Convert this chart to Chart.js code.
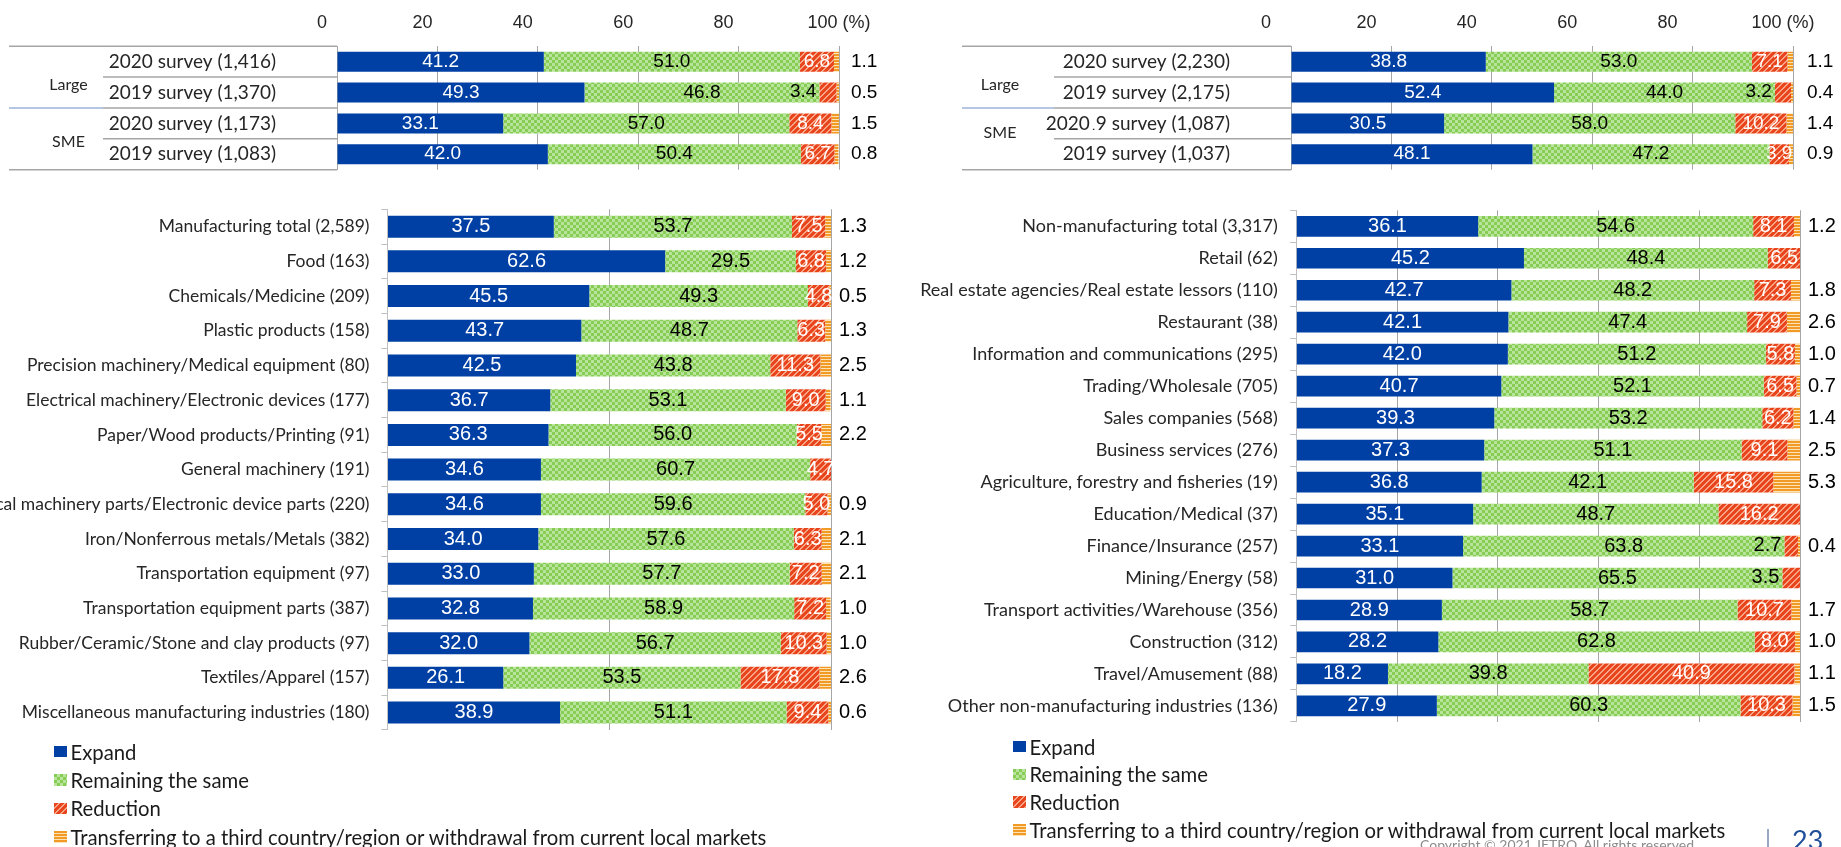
<!DOCTYPE html>
<html lang="en">
<head>
<meta charset="UTF-8">
<meta name="viewport" content="width=device-width, initial-scale=1.0">
<title>Business outlook by industry</title>
<script src="https://cdn.jsdelivr.net/npm/chart.js"></script>
<style>
  html, body { margin: 0; padding: 0; background: #fff; }
  body { position: relative; width: 1841px; height: 847px; overflow: hidden; font-family: Lato, sans-serif; color: #1a1a1a; }
  canvas { position: absolute; left: 0; top: 0; }
  .legend { position: absolute; font-size: 20.3px; line-height: 1; }
  .legend .item { display: flex; align-items: center; white-space: nowrap; }
  .legend .sw { display: inline-block; width: 12.5px; height: 11.6px; margin-right: 4px; background-repeat: repeat; }
  #pageNo { position: absolute; left: 1792px; top: 826px; font-size: 27px; line-height: 1; color: #1f4e9a; }
  #pageRule { position: absolute; left: 1767px; top: 829px; width: 1.5px; height: 18px; background: #9aa6c4; }
  #copyright { position: absolute; left: 1420px; top: 838px; font-size: 14px; line-height: 1; color: #8c8c8c; white-space: nowrap; }
</style>
</head>
<body>
<canvas id="mfgSize" width="1841" height="847"></canvas>
<canvas id="nonSize" width="1841" height="847"></canvas>
<canvas id="mfgInd" width="1841" height="847"></canvas>
<canvas id="nonInd" width="1841" height="847"></canvas>
<div class="legend" id="legendLeft"></div>
<div class="legend" id="legendRight"></div>
<div id="pageRule"></div>
<div id="pageNo">23</div>
<div id="copyright">Copyright © 2021 JETRO. All rights reserved.</div>
<script>
const seriesNames = ['Expand', 'Remaining the same', 'Reduction',
  'Transferring to a third country/region or withdrawal from current local markets'];
const sizeGroups = ['Large', 'SME'];
const axisUnit = '(%)';

// manufacturing, by company size
const mfgSizeLabels = ['2020 survey (1,416)', '2019 survey (1,370)', '2020 survey (1,173)', '2019 survey (1,083)'];
const mfgSizeExpand = [41.2, 49.3, 33.1, 42.0];
const mfgSizeSame = [51.0, 46.8, 57.0, 50.4];
const mfgSizeReduce = [6.8, 3.4, 8.4, 6.7];
const mfgSizeTransfer = [1.1, 0.5, 1.5, 0.8];

// non-manufacturing, by company size
const nonSizeLabels = ['2020 survey (2,230)', '2019 survey (2,175)', '2019 survey (1,087)', '2019 survey (1,037)'];
const nonSizeExpand = [38.8, 52.4, 30.5, 48.1];
const nonSizeSame = [53.0, 44.0, 58.0, 47.2];
const nonSizeReduce = [7.1, 3.2, 10.2, 3.9];
const nonSizeTransfer = [1.1, 0.4, 1.4, 0.9];
// third row: "2020" is typed over the year of its label
const nonSizeYearPatch = { index: 2, text: '2020' };

// manufacturing, by industry
const mfgLabels = [
  'Manufacturing total (2,589)', 'Food (163)', 'Chemicals/Medicine (209)', 'Plastic products (158)',
  'Precision machinery/Medical equipment (80)', 'Electrical machinery/Electronic devices (177)',
  'Paper/Wood products/Printing (91)', 'General machinery (191)',
  'Electrical machinery parts/Electronic device parts (220)', 'Iron/Nonferrous metals/Metals (382)',
  'Transportation equipment (97)', 'Transportation equipment parts (387)',
  'Rubber/Ceramic/Stone and clay products (97)', 'Textiles/Apparel (157)',
  'Miscellaneous manufacturing industries (180)'
];
const mfgExpand = [37.5, 62.6, 45.5, 43.7, 42.5, 36.7, 36.3, 34.6, 34.6, 34.0, 33.0, 32.8, 32.0, 26.1, 38.9];
const mfgSame = [53.7, 29.5, 49.3, 48.7, 43.8, 53.1, 56.0, 60.7, 59.6, 57.6, 57.7, 58.9, 56.7, 53.5, 51.1];
const mfgReduce = [7.5, 6.8, 4.8, 6.3, 11.3, 9.0, 5.5, 4.7, 5.0, 6.3, 7.2, 7.2, 10.3, 17.8, 9.4];
const mfgTransfer = [1.3, 1.2, 0.5, 1.3, 2.5, 1.1, 2.2, null, 0.9, 2.1, 2.1, 1.0, 1.0, 2.6, 0.6];

// non-manufacturing, by industry
const nonLabels = [
  'Non-manufacturing total (3,317)', 'Retail (62)', 'Real estate agencies/Real estate lessors (110)',
  'Restaurant (38)', 'Information and communications (295)', 'Trading/Wholesale (705)',
  'Sales companies (568)', 'Business services (276)', 'Agriculture, forestry and fisheries (19)',
  'Education/Medical (37)', 'Finance/Insurance (257)', 'Mining/Energy (58)',
  'Transport activities/Warehouse (356)', 'Construction (312)', 'Travel/Amusement (88)',
  'Other non-manufacturing industries (136)'
];
const nonExpand = [36.1, 45.2, 42.7, 42.1, 42.0, 40.7, 39.3, 37.3, 36.8, 35.1, 33.1, 31.0, 28.9, 28.2, 18.2, 27.9];
const nonSame = [54.6, 48.4, 48.2, 47.4, 51.2, 52.1, 53.2, 51.1, 42.1, 48.7, 63.8, 65.5, 58.7, 62.8, 39.8, 60.3];
const nonReduce = [8.1, 6.5, 7.3, 7.9, 5.8, 6.5, 6.2, 9.1, 15.8, 16.2, 2.7, 3.5, 10.7, 8.0, 40.9, 10.3];
const nonTransfer = [1.2, null, 1.8, 2.6, 1.0, 0.7, 1.4, 2.5, 5.3, null, 0.4, null, 1.7, 1.0, 1.1, 1.5];

const W = 1841, H = 847;
const labelFamily = 'Lato, sans-serif';
const numberFamily = "'Liberation Sans', Arial, sans-serif";
const gridGray = '#a6a6a6';

// small pixel tiles for the hatched fills
function tile(w, h, paint) {
  const c = document.createElement('canvas');
  c.width = w; c.height = h;
  const g = c.getContext('2d');
  for (let y = 0; y < h; y++) {
    for (let x = 0; x < w; x++) {
      g.fillStyle = paint(x, y);
      g.fillRect(x, y, 1, 1);
    }
  }
  return c;
}
const checkerTile = tile(6, 6, (x, y) => (((x / 3) | 0) + ((y / 3) | 0)) % 2 ? '#b9e49c' : '#86cc55');
const hatchTile = tile(6, 6, (x, y) => (x + y) % 6 < 4 ? '#e8441d' : '#f7a686');
const stripeTile = tile(1, 3, (x, y) => y < 2 ? '#f29a26' : '#fde2b6');

const pctx = document.createElement('canvas').getContext('2d');
const fills = [
  '#0040a4',
  pctx.createPattern(checkerTile, 'repeat'),
  pctx.createPattern(hatchTile, 'repeat'),
  pctx.createPattern(stripeTile, 'repeat')
];
const swatchCss = [
  '#0040a4',
  `url(${checkerTile.toDataURL()})`,
  `url(${hatchTile.toDataURL()})`,
  `url(${stripeTile.toDataURL()})`
];

// numbers written on / next to each segment
const segmentValues = {
  id: 'segmentValues',
  afterDatasetsDraw(chart, args, o) {
    const { ctx, scales: { x } } = chart;
    const end = x.getPixelForValue(100);
    ctx.save();
    ctx.textBaseline = 'middle';
    chart.data.datasets.forEach((ds, di) => {
      chart.getDatasetMeta(di).data.forEach((bar, i) => {
        const v = ds.data[i];
        if (v == null) return;
        const { x: bx, base, y: by } = bar.getProps(['x', 'base', 'y'], true);
        const from = Math.min(bx, base), to = Math.max(bx, base);
        const txt = v.toFixed(1);
        if (di === 3) {
          ctx.font = o.outFont; ctx.fillStyle = '#000'; ctx.textAlign = 'left';
          ctx.fillText(txt, end + o.outGap, by);
        } else if (di === 2 && v < 3.6) {
          ctx.font = o.inFont; ctx.fillStyle = '#000'; ctx.textAlign = 'right';
          ctx.fillText(txt, from - 3, by - 1);
        } else {
          ctx.font = o.inFont; ctx.fillStyle = di === 1 ? '#000' : '#fff'; ctx.textAlign = 'center';
          ctx.fillText(txt, (from + to) / 2, by);
        }
      });
    });
    ctx.restore();
  }
};

// row rules and Large/SME captions left of the size panels
const sizeFrame = {
  id: 'sizeFrame',
  afterDraw(chart, args, o) {
    const { ctx, chartArea: a, scales: { y } } = chart;
    const n = chart.data.labels.length;
    const edge = k => k === 0 ? a.top : k === n ? a.bottom
      : (y.getPixelForValue(k - 1) + y.getPixelForValue(k)) / 2;
    ctx.save();
    ctx.lineWidth = 1.5;
    for (let k = 0; k <= n; k++) {
      const yy = edge(k);
      if (k === 2) {
        ctx.strokeStyle = '#9db3dc';
        ctx.beginPath(); ctx.moveTo(o.outerLeft, yy); ctx.lineTo(o.innerLeft, yy); ctx.stroke();
      }
      ctx.strokeStyle = gridGray;
      ctx.beginPath();
      ctx.moveTo(k % 2 === 0 && k !== 2 ? o.outerLeft : o.innerLeft, yy);
      ctx.lineTo(a.left, yy);
      ctx.stroke();
    }
    ctx.fillStyle = '#262626';
    ctx.textAlign = 'center';
    ctx.textBaseline = 'middle';
    ctx.font = `16px ${labelFamily}`;
    sizeGroups.forEach((g, j) => ctx.fillText(g, o.groupX, edge(2 * j + 1) + o.groupDy[j]));

    if (o.patch) {
      const p = o.patch;
      const label = chart.data.labels[p.index];
      ctx.font = `${o.labelSize}px ${labelFamily}`;
      const right = y.right - o.labelGap;
      const left = right - ctx.measureText(label).width;
      const cut = left + ctx.measureText(label.slice(0, 3)).width;
      const cy = y.getPixelForValue(p.index);
      ctx.fillStyle = '#fff';
      ctx.fillRect(cut - 50, cy - 11, 47, 22);
      ctx.fillStyle = '#262626';
      ctx.textAlign = 'right';
      ctx.fillText(p.text, cut - 6, cy);
    }
    ctx.restore();
  }
};

function drawPanel(id, p) {
  const onTop = !!p.axisOnTop;
  // size panels keep their labels far from the axis with an invisible tick mark,
  // so the label padding does not push the plot area down
  const yGrid = onTop
    ? { display: true, drawOnChartArea: false, drawTicks: true, tickLength: p.labelGap, color: 'rgba(0,0,0,0)' }
    : { offset: true, drawOnChartArea: false, drawTicks: true, tickLength: 6, color: '#bfbfbf' };
  return new Chart(document.getElementById(id), {
    type: 'bar',
    data: {
      labels: p.labels,
      datasets: p.series.map((values, i) => ({
        label: seriesNames[i],
        data: values,
        backgroundColor: fills[i],
        borderWidth: 0,
        barPercentage: p.barPct,
        categoryPercentage: 1
      }))
    },
    options: {
      indexAxis: 'y',
      responsive: false,
      animation: false,
      events: [],
      layout: { padding: { left: 0, right: W - p.area.right, top: onTop ? 0 : p.area.top, bottom: H - p.area.bottom } },
      plugins: {
        legend: { display: false },
        tooltip: { enabled: false },
        segmentValues: p.values,
        sizeFrame: p.frame || false
      },
      scales: {
        x: {
          stacked: true,
          min: 0,
          max: 100,
          position: onTop ? 'top' : 'bottom',
          border: { display: false },
          grid: { color: gridGray, drawTicks: false },
          ticks: onTop ? {
            stepSize: 20,
            padding: 12,
            labelOffset: p.labelOffset,
            color: '#262626',
            font: { family: numberFamily, size: 18 },
            callback: v => v === 100 ? '100 ' + axisUnit : v + '      '
          } : { display: false, stepSize: p.step },
          afterFit(s) { s.height = onTop ? p.area.top : 0; }
        },
        y: {
          stacked: true,
          border: { display: true, color: p.axisColor },
          grid: yGrid,
          ticks: {
            autoSkip: false,
            padding: onTop ? 0 : p.labelPad,
            color: '#262626',
            font: { family: labelFamily, size: p.labelSize }
          },
          afterFit(s) { s.width = p.area.left; }
        }
      }
    },
    plugins: p.frame ? [segmentValues, sizeFrame] : [segmentValues]
  });
}

drawPanel('mfgSize', {
  labels: mfgSizeLabels,
  series: [mfgSizeExpand, mfgSizeSame, mfgSizeReduce, mfgSizeTransfer],
  area: { left: 337, right: 839, top: 46.2, bottom: 169.7 },
  barPct: 0.647, axisOnTop: true, labelOffset: 0, labelGap: 61, labelSize: 19, axisColor: gridGray,
  values: { inFont: `19px ${numberFamily}`, outFont: `19px ${numberFamily}`, outGap: 12 },
  frame: { outerLeft: 9, innerLeft: 103, groupX: 68.5, groupDy: [8, 3], labelGap: 61, labelSize: 19 }
});

drawPanel('nonSize', {
  labels: nonSizeLabels,
  series: [nonSizeExpand, nonSizeSame, nonSizeReduce, nonSizeTransfer],
  area: { left: 1291, right: 1793, top: 46.2, bottom: 169.7 },
  barPct: 0.647, axisOnTop: true, labelOffset: -10, labelGap: 61, labelSize: 19, axisColor: gridGray,
  values: { inFont: `19px ${numberFamily}`, outFont: `19px ${numberFamily}`, outGap: 14 },
  frame: { outerLeft: 962, innerLeft: 1054, groupX: 1000, groupDy: [8, -6], labelGap: 61, labelSize: 19,
           patch: nonSizeYearPatch }
});

drawPanel('mfgInd', {
  labels: mfgLabels,
  series: [mfgExpand, mfgSame, mfgReduce, mfgTransfer],
  area: { left: 387.5, right: 831, top: 209.3, bottom: 729.9 },
  barPct: 0.634, step: 50, labelPad: 12, labelSize: 17.5, axisColor: '#bfbfbf',
  values: { inFont: `20px ${numberFamily}`, outFont: `20px ${numberFamily}`, outGap: 8 }
});

drawPanel('nonInd', {
  labels: nonLabels,
  series: [nonExpand, nonSame, nonReduce, nonTransfer],
  area: { left: 1296.3, right: 1800, top: 210.3, bottom: 721.9 },
  barPct: 0.647, step: 20, labelPad: 12.5, labelSize: 18, axisColor: '#bfbfbf',
  values: { inFont: `20px ${numberFamily}`, outFont: `20px ${numberFamily}`, outGap: 8 }
});

function buildLegend(id, left, top, rowH) {
  const box = document.getElementById(id);
  box.style.left = left + 'px';
  box.style.top = top + 'px';
  seriesNames.forEach((name, i) => {
    const row = document.createElement('div');
    row.className = 'item';
    row.style.height = rowH + 'px';
    const sw = document.createElement('span');
    sw.className = 'sw';
    sw.style.background = swatchCss[i];
    row.appendChild(sw);
    row.appendChild(document.createTextNode(name));
    box.appendChild(row);
  });
}
buildLegend('legendLeft', 54, 737.5, 28.35);
buildLegend('legendRight', 1013, 732.8, 27.8);
</script>
</body>
</html>
